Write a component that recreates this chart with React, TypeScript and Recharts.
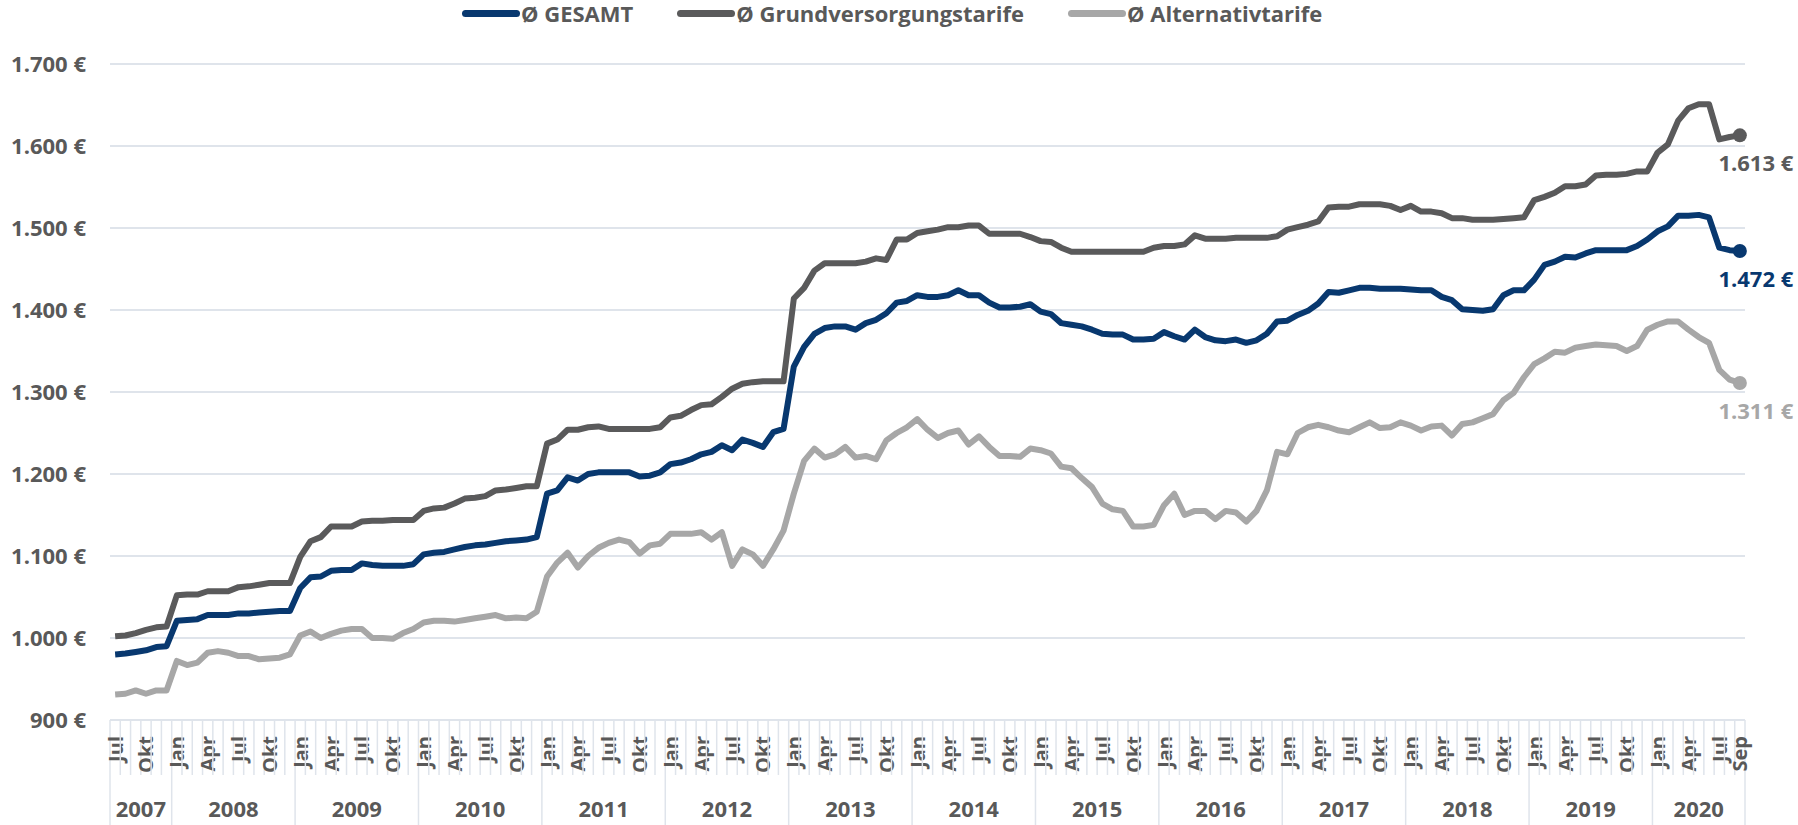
import React from "react";
import { LineChart, Line, XAxis, YAxis, CartesianGrid } from "recharts";

const BLUE = "#08386f";
const DARK = "#5a5a5b";
const LIGHT = "#a7a7a7";
const TEXT = "#595959";
const GRID = "#dfe4eb";
const FONT = "'Open Sans', sans-serif";

const MONTH_NAMES = ["Jan", "Feb", "Mär", "Apr", "Mai", "Jun", "Jul", "Aug", "Sep", "Okt", "Nov", "Dez"];
const LABELED_MONTHS = ["Jan", "Apr", "Jul", "Okt"];
const FIRST_YEAR = 2007;
const FIRST_MONTH = 6; // Jul
const LAST_YEAR = 2020;
const LAST_MONTH = 8; // Sep

const Y_TICKS = [900, 1000, 1100, 1200, 1300, 1400, 1500, 1600, 1700];

// Jul 2007 .. Sep 2020, eine Zeile pro Jahr
const gesamt = [
  980, 981, 983, 985, 989, 990,
  1021, 1022, 1023, 1028, 1028, 1028, 1030, 1030, 1031, 1032, 1033, 1033,
  1061, 1074, 1075, 1082, 1083, 1083, 1091, 1089, 1088, 1088, 1088, 1090,
  1102, 1104, 1105, 1108, 1111, 1113, 1114, 1116, 1118, 1119, 1120, 1123,
  1176, 1180, 1196, 1192, 1200, 1202, 1202, 1202, 1202, 1197, 1198, 1202,
  1212, 1214, 1218, 1224, 1227, 1235, 1229, 1242, 1238, 1233, 1251, 1255,
  1331, 1355, 1371, 1378, 1380, 1380, 1376, 1384, 1388, 1396, 1409, 1411,
  1418, 1416, 1416, 1418, 1424, 1418, 1418, 1409, 1403, 1403, 1404, 1407,
  1398, 1395, 1384, 1382, 1380, 1376, 1371, 1370, 1370, 1364, 1364, 1365,
  1373, 1368, 1364, 1376, 1367, 1363, 1362, 1364, 1360, 1363, 1371, 1386,
  1387, 1394, 1399, 1408, 1422, 1421, 1424, 1427, 1427, 1426, 1426, 1426,
  1425, 1424, 1424, 1416, 1412, 1401, 1400, 1399, 1401, 1418, 1424, 1424,
  1437, 1455, 1459, 1465, 1464, 1469, 1473, 1473, 1473, 1473, 1478, 1486,
  1496, 1502, 1515, 1515, 1516, 1513, 1476, 1473, 1472,
];

const grundversorgung = [
  1002, 1003, 1006, 1010, 1013, 1014,
  1052, 1053, 1053, 1057, 1057, 1057, 1062, 1063, 1065, 1067, 1067, 1067,
  1099, 1118, 1123, 1136, 1136, 1136, 1142, 1143, 1143, 1144, 1144, 1144,
  1155, 1158, 1159, 1164, 1170, 1171, 1173, 1180, 1181, 1183, 1185, 1185,
  1237, 1242, 1254, 1254, 1257, 1258, 1255, 1255, 1255, 1255, 1255, 1257,
  1269, 1271, 1278, 1284, 1285, 1294, 1304, 1310, 1312, 1313, 1313, 1313,
  1414, 1427, 1448, 1457, 1457, 1457, 1457, 1459, 1463, 1461, 1486, 1486,
  1494, 1496, 1498, 1501, 1501, 1503, 1503, 1493, 1493, 1493, 1493, 1489,
  1484, 1483, 1476, 1471, 1471, 1471, 1471, 1471, 1471, 1471, 1471, 1476,
  1478, 1478, 1480, 1491, 1487, 1487, 1487, 1488, 1488, 1488, 1488, 1490,
  1498, 1501, 1504, 1508, 1525, 1526, 1526, 1529, 1529, 1529, 1527, 1522,
  1527, 1520, 1520, 1518, 1512, 1512, 1510, 1510, 1510, 1511, 1512, 1513,
  1534, 1538, 1543, 1551, 1551, 1553, 1564, 1565, 1565, 1566, 1569, 1569,
  1592, 1602, 1631, 1646, 1651, 1651, 1608, 1611, 1613,
];

const alternativ = [
  931, 932, 936, 932, 936, 936,
  972, 967, 970, 982, 984, 982, 978, 978, 974, 975, 976, 980,
  1003, 1008, 1000, 1005, 1009, 1011, 1011, 1000, 1000, 999, 1006, 1011,
  1019, 1021, 1021, 1020, 1022, 1024, 1026, 1028, 1024, 1025, 1024, 1032,
  1075, 1092, 1104, 1086, 1100, 1110, 1116, 1120, 1117, 1103, 1113, 1115,
  1127, 1127, 1127, 1129, 1120, 1129, 1088, 1108, 1102, 1088, 1108, 1131,
  1176, 1216, 1231, 1220, 1224, 1233, 1220, 1222, 1218, 1241, 1250, 1257,
  1267, 1254, 1244, 1250, 1253, 1236, 1246, 1233, 1222, 1222, 1221, 1231,
  1229, 1225, 1209, 1207, 1195, 1184, 1164, 1157, 1155, 1136, 1136, 1138,
  1162, 1176, 1150, 1155, 1155, 1145, 1155, 1153, 1142, 1155, 1180, 1227,
  1224, 1250, 1257, 1260, 1257, 1253, 1251, 1257, 1263, 1256, 1257, 1263,
  1259, 1253, 1258, 1259, 1247, 1261, 1263, 1268, 1273, 1290, 1299, 1318,
  1334, 1341, 1349, 1348, 1354, 1356, 1358, 1357, 1356, 1350, 1356, 1376,
  1382, 1386, 1386, 1376, 1367, 1360, 1327, 1315, 1311,
];

const SERIES = [
  { key: "gesamt", name: "Ø GESAMT", color: BLUE },
  { key: "grund", name: "Ø Grundversorgungstarife", color: DARK },
  { key: "alternativ", name: "Ø Alternativtarife", color: LIGHT },
];

const months: { year: number; month: number }[] = [];
for (let y = FIRST_YEAR; y <= LAST_YEAR; y++) {
  const from = y === FIRST_YEAR ? FIRST_MONTH : 0;
  const to = y === LAST_YEAR ? LAST_MONTH : 11;
  for (let m = from; m <= to; m++) months.push({ year: y, month: m });
}

const data = months.map((m, i) => ({
  key: `${MONTH_NAMES[m.month]} ${m.year}`,
  year: m.year,
  month: m.month,
  gesamt: gesamt[i],
  grund: grundversorgung[i],
  alternativ: alternativ[i],
}));

const W = 1798;
const H = 825;
const MARGIN = { top: 64, right: 53, bottom: 0, left: 14 };
const Y_WIDTH = 96;
const X_HEIGHT = 105;
const PLOT_LEFT = MARGIN.left + Y_WIDTH;
const PLOT_W = W - MARGIN.right - PLOT_LEFT;
const BAND = PLOT_W / data.length;
const AXIS_Y = H - X_HEIGHT;
const LAST = data.length - 1;

const euro = (v: number) => {
  const s = String(Math.round(v));
  return (s.length > 3 ? s.slice(0, -3) + "." + s.slice(-3) : s) + " €";
};

function MonthTick(props: any) {
  const { x, index } = props;
  const d = data[index];
  if (!d) return <g />;
  const left = x - BAND / 2;
  const yearStart = index === 0 || d.month === 0;
  const name = MONTH_NAMES[d.month];
  const label = index === LAST || LABELED_MONTHS.includes(name) ? name : null;
  const inYear = data.filter((e) => e.year === d.year).length;
  return (
    <g>
      <line
        x1={left}
        x2={left}
        y1={AXIS_Y}
        y2={yearStart ? H : AXIS_Y + 55}
        stroke={GRID}
        strokeWidth={1.5}
      />
      {index === LAST && (
        <line x1={left + BAND} x2={left + BAND} y1={AXIS_Y} y2={H} stroke={GRID} strokeWidth={1.5} />
      )}
      {label && (
        <text
          transform={`translate(${x},${AXIS_Y + 16}) rotate(-90)`}
          textAnchor="end"
          dominantBaseline="central"
          fontFamily={FONT}
          fontWeight={700}
          fontSize={20}
          fill={TEXT}
        >
          {label}
        </text>
      )}
      {yearStart && (
        <text
          x={left + (inYear * BAND) / 2}
          y={AXIS_Y + 88}
          textAnchor="middle"
          dominantBaseline="central"
          fontFamily={FONT}
          fontWeight={700}
          fontSize={22}
          fill={TEXT}
        >
          {d.year}
        </text>
      )}
    </g>
  );
}

const endDot = (color: string) => (props: any) => {
  const { cx, cy, index } = props;
  if (index !== LAST) return <g key={`d${index}`} />;
  return <circle key={`d${index}`} cx={cx} cy={cy} r={7} fill={color} />;
};

const endLabel = (color: string) => (props: any) => {
  const { x, y, index, value } = props;
  if (index !== LAST) return null;
  return (
    <text
      x={x + 16}
      y={y + 27}
      textAnchor="middle"
      dominantBaseline="central"
      fontFamily={FONT}
      fontWeight={700}
      fontSize={22}
      fill={color}
    >
      {euro(value)}
    </text>
  );
};

function LegendRow() {
  return (
    <div
      style={{
        position: "absolute",
        left: 462,
        top: 0,
        height: 26,
        display: "flex",
        alignItems: "center",
        gap: 44,
        fontFamily: FONT,
        fontWeight: 700,
        fontSize: 22,
        color: TEXT,
        whiteSpace: "nowrap",
      }}
    >
      {SERIES.map((s) => (
        <div key={s.key} style={{ display: "flex", alignItems: "center" }}>
          <span
            style={{
              display: "inline-block",
              width: 58,
              height: 7,
              borderRadius: 4,
              background: s.color,
              marginRight: 1,
            }}
          />
          <span>{s.name}</span>
        </div>
      ))}
    </div>
  );
}

export default function App() {
  return (
    <div style={{ position: "absolute", left: 0, top: 0, width: W, height: H, background: "#fff" }}>
      <LineChart width={W} height={H} data={data} margin={MARGIN}>
        <CartesianGrid horizontal vertical={false} stroke={GRID} strokeWidth={2} />
        <XAxis
          dataKey="key"
          scale="band"
          interval={0}
          height={X_HEIGHT}
          tickLine={false}
          axisLine={{ stroke: GRID, strokeWidth: 2 }}
          tick={(p: any) => <MonthTick {...p} />}
        />
        <YAxis
          domain={[900, 1700]}
          ticks={Y_TICKS}
          width={Y_WIDTH}
          axisLine={false}
          tickLine={false}
          tickMargin={18}
          tickFormatter={euro}
          tick={{ fontFamily: FONT, fontWeight: 700, fontSize: 22, fill: TEXT }}
        />
        <Line
          type="linear"
          dataKey="alternativ"
          stroke={LIGHT}
          strokeWidth={6}
          strokeLinejoin="round"
          dot={endDot(LIGHT)}
          activeDot={false}
          label={endLabel(LIGHT)}
          isAnimationActive={false}
        />
        <Line
          type="linear"
          dataKey="grund"
          stroke={DARK}
          strokeWidth={6}
          strokeLinejoin="round"
          dot={endDot(DARK)}
          activeDot={false}
          label={endLabel(DARK)}
          isAnimationActive={false}
        />
        <Line
          type="linear"
          dataKey="gesamt"
          stroke={BLUE}
          strokeWidth={6}
          strokeLinejoin="round"
          dot={endDot(BLUE)}
          activeDot={false}
          label={endLabel(BLUE)}
          isAnimationActive={false}
        />
      </LineChart>
      <LegendRow />
    </div>
  );
}
